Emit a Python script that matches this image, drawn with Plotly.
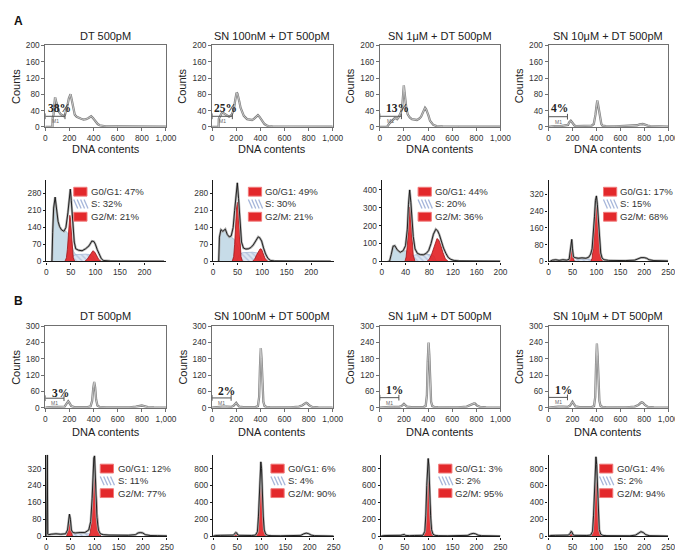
import plotly.graph_objects as go

W, H = 683, 552

TITLES = ["DT 500pM", "SN 100nM + DT 500pM", "SN 1μM + DT 500pM", "SN 10μM + DT 500pM"]
HIST_X_TICKS = [0, 200, 400, 600, 800, 1000]
HIST_X_LABELS = ["0", "200", "400", "600", "800", "1,000"]

# ---------------- Panel A, DNA histograms ----------------
A1_1_x = [0, 55, 59, 61, 68, 75, 81, 90, 100, 113, 127, 140, 154, 163, 173, 185, 195, 209, 218, 228, 244, 260, 276, 297, 317, 338, 358, 380, 395, 407, 420, 434, 450, 466, 500, 600, 800, 1000]
A1_1_y = [0, 0, 0, 22, 30, 55, 73, 62, 47, 37, 31, 28, 26, 30, 39, 55, 70, 80, 68, 51, 30, 25, 22, 20, 18, 19, 22, 26, 22, 17, 12, 7, 4, 3, 1.5, 1, 0.8, 0.5]
A1_2_x = [0, 50, 54, 56, 65, 78, 87, 100, 114, 128, 141, 152, 163, 172, 182, 192, 203, 210, 217, 226, 236, 250, 263, 290, 331, 345, 358, 370, 380, 392, 404, 420, 434, 450, 466, 500, 600, 800, 1000]
A1_2_y = [0, 0, 0, 20, 26, 33, 35, 33, 31, 27, 25, 27, 30, 37, 47, 66, 84, 82, 75, 62, 47, 35, 27, 19, 17, 19, 23, 26, 29, 25, 19, 12, 7, 4, 2, 1.2, 0.8, 0.6, 0.4]
A1_3_x = [0, 60, 76, 90, 103, 115, 125, 135, 144, 153, 163, 175, 185, 192, 199, 205, 212, 220, 231, 248, 266, 287, 307, 325, 342, 352, 361, 368, 375, 383, 391, 404, 416, 430, 443, 470, 520, 650, 1000]
A1_3_y = [0, 0, 7, 11, 15, 19, 22, 21, 19, 22, 27, 36, 47, 75, 102, 85, 63, 45, 31, 23, 19, 17, 17, 20, 25, 32, 39, 44, 47, 44, 39, 27, 15, 9, 5, 2, 1, 0.6, 0.4]
A1_4_x = [0, 50, 100, 150, 163, 172, 180, 186, 195, 205, 215, 227, 260, 320, 360, 378, 385, 392, 399, 403, 407, 412, 418, 425, 432, 441, 451, 480, 560, 680, 740, 760, 775, 787, 800, 815, 828, 850, 900, 1000]
A1_4_y = [0, 2, 2, 3, 5, 11, 14, 15, 12, 7, 4, 2, 2, 2, 3, 7, 15, 30, 47, 60, 65, 58, 47, 30, 15, 7, 3, 2, 1.5, 2, 4, 6, 7, 7, 6, 4, 3, 2, 1, 0.5]
A_GATE_END = [163, 168, 179, 158]
A_GATE_Y = [26, 26, 26, 25]
A_PCT = ["38%", "25%", "13%", "4%"]

# ---------------- Panel B, DNA histograms ----------------
B1_1_x = [0, 30, 60, 100, 140, 160, 172, 182, 190, 200, 215, 240, 300, 350, 375, 388, 397, 405, 413, 421, 432, 450, 500, 600, 700, 750, 780, 800, 820, 850, 900, 1000]
B1_1_y = [0, 2, 3, 3, 3, 4, 12, 22, 24, 18, 6, 2, 1.5, 2, 5, 25, 70, 95, 75, 30, 8, 3, 1.5, 1, 1.5, 4, 7, 8, 6, 2, 1, 0.5]
B1_2_x = [0, 40, 80, 120, 160, 180, 192, 200, 210, 225, 260, 320, 360, 380, 390, 397, 404, 410, 417, 425, 435, 450, 480, 550, 650, 720, 750, 770, 780, 790, 805, 830, 880, 1000]
B1_2_y = [0, 3, 4, 4, 3, 8, 16, 18, 12, 4, 2, 1.5, 2, 6, 40, 150, 220, 180, 85, 22, 6, 3, 2, 1, 1.5, 4, 9, 16, 18, 16, 9, 3, 1, 0.5]
B1_3_x = [0, 40, 80, 120, 160, 180, 192, 200, 210, 225, 260, 320, 360, 380, 390, 397, 404, 410, 417, 425, 435, 450, 480, 550, 650, 720, 750, 770, 780, 790, 805, 830, 880, 1000]
B1_3_y = [0, 2, 3, 3, 3, 6, 12, 14, 10, 4, 2, 1.5, 2, 6, 45, 170, 240, 195, 90, 22, 6, 3, 2, 1, 1.5, 4, 9, 15, 16, 15, 8, 3, 1, 0.5]
B1_4_x = [0, 40, 80, 120, 160, 180, 192, 200, 210, 225, 260, 320, 360, 380, 390, 397, 404, 410, 417, 425, 435, 450, 480, 550, 650, 720, 750, 770, 780, 790, 805, 830, 880, 1000]
B1_4_y = [0, 3, 4, 4, 3, 8, 20, 22, 15, 5, 2, 1.5, 2, 6, 40, 160, 236, 190, 90, 25, 6, 3, 2, 1, 1.5, 4, 10, 18, 20, 18, 10, 3, 1, 0.5]
B_GATE_END = [155, 158, 158, 158]
B_GATE_Y = [35, 36, 37, 38]
B_PCT = ["3%", "2%", "1%", "1%"]

# ---------------- cell-cycle models ----------------
LEG_LABELS = ["G0/G1", "S", "G2/M"]
A2_PCT = [[47, 32, 21], [49, 30, 21], [44, 20, 36], [17, 15, 68]]
B2_PCT = [[12, 11, 77], [6, 4, 90], [3, 2, 95], [4, 2, 94]]

A2_1_tot_x = [10, 11.5, 13, 15, 18, 21, 24, 27, 31, 36, 40, 44, 47, 49, 51, 54, 57, 60, 66, 73, 80, 87, 93, 97, 100, 104, 108, 112, 116, 122, 130, 150, 180, 210, 240]
A2_1_tot_y = [0, 0, 120, 220, 265, 220, 165, 144, 130, 124, 140, 200, 280, 298, 250, 140, 80, 52, 46, 44, 52, 64, 84, 82, 71, 48, 28, 12, 4, 2, 1.5, 1, 1, 0.5, 0.5]
A2_1_deb_x = [10, 11.5, 13, 15, 18, 21, 24, 27, 31, 36, 40, 44, 48, 52, 56, 60, 66, 75, 85, 95, 105, 115]
A2_1_deb_y = [0, 0, 120, 220, 265, 220, 165, 144, 130, 124, 125, 115, 95, 65, 40, 28, 20, 14, 10, 6, 3, 0]
A2_1_g1_x = [38, 41, 43, 45, 47, 48, 49, 51, 53, 55, 58]
A2_1_g1_y = [0, 15, 50, 120, 175, 190, 180, 120, 50, 15, 0]
A2_1_g2_x = [78, 83, 87, 91, 95, 99, 103, 107, 112]
A2_1_g2_y = [0, 8, 20, 35, 44, 38, 22, 8, 0]
A2_1_s_x = [48, 52, 60, 70, 80, 90, 96, 100]
A2_1_s_y = [0, 20, 28, 30, 30, 28, 20, 0]
A2_1_marks = [50]

A2_2_tot_x = [10, 11.5, 13, 16, 20, 25, 29, 33, 37, 41, 44, 47, 49.5, 52, 55, 58, 62, 67, 72, 77, 82, 87, 92, 95, 99, 103, 107, 112, 117, 125, 140, 180, 240]
A2_2_tot_y = [0, 0, 100, 131, 124, 133, 111, 101, 105, 140, 210, 290, 324, 260, 150, 80, 55, 51, 52, 57, 68, 84, 101, 98, 84, 55, 31, 12, 4, 2, 1, 1, 0.5]
A2_2_deb_x = [10, 11.5, 13, 16, 20, 25, 29, 33, 37, 41, 45, 49, 53, 57, 62, 70, 80, 95, 110]
A2_2_deb_y = [0, 0, 100, 131, 124, 133, 111, 101, 100, 95, 85, 70, 50, 35, 25, 15, 8, 3, 0]
A2_2_g1_x = [39, 42, 44, 46, 48, 49.5, 51, 53, 55, 57, 60]
A2_2_g1_y = [0, 20, 70, 160, 225, 244, 230, 160, 70, 20, 0]
A2_2_g2_x = [80, 85, 89, 93, 96, 99, 102, 106, 112]
A2_2_g2_y = [0, 10, 28, 45, 52, 50, 35, 12, 0]
A2_2_s_x = [48, 53, 60, 70, 80, 90, 96, 100]
A2_2_s_y = [0, 25, 36, 38, 38, 35, 25, 0]
A2_2_marks = []

A2_3_tot_x = [10, 13, 16, 19, 22, 26, 31, 36, 40, 43, 45, 47, 49, 51, 53, 56, 60, 65, 70, 75, 79, 83, 87, 91, 94, 97, 100, 104, 108, 112, 116, 122, 130, 145, 170, 200]
A2_3_tot_y = [0, 0, 40, 85, 88, 65, 51, 60, 88, 180, 320, 400, 330, 240, 140, 70, 45, 38, 37, 45, 61, 100, 152, 180, 172, 150, 116, 75, 45, 22, 12, 5, 3, 2, 1, 1]
A2_3_deb_x = [10, 13, 16, 19, 22, 26, 31, 36, 40, 44, 48, 52, 56, 62, 70, 80, 95, 110]
A2_3_deb_y = [0, 0, 40, 85, 88, 65, 51, 55, 60, 55, 42, 30, 20, 14, 10, 6, 3, 0]
A2_3_g1_x = [39, 41, 43, 45, 46, 47, 48, 49, 51, 53, 56]
A2_3_g1_y = [0, 25, 90, 210, 280, 305, 290, 240, 120, 35, 0]
A2_3_g2_x = [76, 80, 84, 88, 91, 93, 96, 99, 103, 107, 112]
A2_3_g2_y = [0, 12, 40, 85, 118, 128, 120, 95, 50, 15, 0]
A2_3_s_x = [45, 50, 58, 66, 74, 82, 88, 92]
A2_3_s_y = [0, 30, 38, 40, 40, 38, 30, 0]
A2_3_marks = [46, 91]

A2_4_tot_x = [3, 8, 15, 22, 30, 38, 43, 45, 47, 48.5, 50, 52, 55, 62, 70, 78, 84, 88, 91, 94, 96, 98, 100, 102, 104, 106, 109, 112, 116, 125, 140, 160, 180, 187, 193, 200, 205, 210, 220, 235, 250]
A2_4_tot_y = [0, 6, 8, 5, 8, 6, 10, 50, 100, 105, 60, 22, 18, 15, 17, 15, 20, 35, 60, 140, 215, 290, 312, 270, 190, 110, 40, 15, 8, 5, 4, 4, 6, 12, 18, 18, 15, 8, 4, 3, 2]
A2_4_deb_x = [3, 8, 15, 22, 30, 38, 45, 50, 55]
A2_4_deb_y = [0, 6, 8, 5, 8, 6, 4, 2, 0]
A2_4_g1_x = [42, 44, 46, 47, 48, 49, 50, 52, 54]
A2_4_g1_y = [0, 20, 70, 92, 98, 92, 65, 15, 0]
A2_4_g2_x = [88, 91, 93, 95, 97, 98.5, 100, 101.5, 103, 105, 107, 110, 113]
A2_4_g2_y = [0, 15, 60, 140, 220, 280, 305, 280, 220, 140, 70, 15, 0]
A2_4_s_x = [52, 60, 70, 80, 88, 92]
A2_4_s_y = [0, 10, 12, 12, 10, 0]
A2_4_marks = [48, 99, 198]

B2_1_tot_x = [0, 1, 2, 3, 5, 10, 20, 30, 40, 44, 46, 48, 50, 52, 55, 60, 70, 80, 88, 92, 95, 97, 98.5, 100, 101.5, 103, 105, 108, 112, 118, 130, 150, 170, 185, 190, 195, 200, 205, 215, 230, 250]
B2_1_tot_y = [0, 380, 385, 10, 8, 10, 12, 10, 12, 30, 80, 105, 80, 30, 18, 16, 18, 18, 30, 70, 180, 300, 370, 380, 320, 200, 90, 30, 12, 8, 6, 5, 5, 8, 16, 18, 16, 8, 4, 3, 2]
B2_1_g1_x = [42, 44, 46, 47, 48, 49, 50, 52, 54]
B2_1_g1_y = [0, 20, 70, 95, 100, 95, 70, 20, 0]
B2_1_g2_x = [88, 91, 93, 95, 97, 98.5, 100, 101.5, 103, 105, 107, 110, 113]
B2_1_g2_y = [0, 15, 60, 150, 240, 300, 320, 300, 240, 150, 70, 15, 0]
B2_1_s_x = [52, 60, 70, 80, 90, 95]
B2_1_s_y = [0, 12, 15, 15, 12, 0]
B2_1_marks = [49, 99, 194]

B2_2_tot_x = [0, 5, 15, 25, 35, 42, 45, 47, 49, 51, 54, 60, 70, 80, 88, 92, 94, 96, 97.5, 99, 100.5, 102, 104, 106, 109, 113, 120, 140, 170, 182, 188, 193, 198, 203, 210, 225, 250]
B2_2_tot_y = [0, 10, 12, 10, 12, 15, 30, 45, 40, 18, 12, 10, 12, 10, 15, 55, 230, 560, 840, 880, 800, 520, 240, 75, 25, 12, 8, 6, 6, 12, 30, 38, 32, 15, 8, 5, 3]
B2_2_g1_x = [43, 45, 47, 48, 49, 51, 53]
B2_2_g1_y = [0, 18, 38, 42, 38, 12, 0]
B2_2_g2_x = [88, 91, 93, 95, 96.5, 98, 99.5, 101, 103, 105, 107, 110]
B2_2_g2_y = [0, 30, 140, 380, 610, 760, 790, 660, 380, 140, 40, 0]
B2_2_s_x = [52, 65, 80, 92]
B2_2_s_y = [0, 8, 8, 0]
B2_2_marks = [50, 100, 195]

B2_3_tot_x = [0, 5, 15, 25, 35, 42, 45, 47, 49, 51, 54, 60, 70, 80, 88, 92, 94, 96, 97.5, 99, 100.5, 102, 104, 106, 109, 113, 120, 140, 170, 182, 188, 193, 198, 203, 210, 225, 250]
B2_3_tot_y = [0, 8, 10, 8, 10, 12, 18, 25, 22, 12, 10, 8, 10, 8, 12, 60, 250, 600, 880, 920, 830, 540, 250, 80, 25, 12, 8, 6, 6, 12, 28, 35, 30, 14, 8, 5, 3]
B2_3_g1_x = [43, 45, 47, 48, 49, 51, 53]
B2_3_g1_y = [0, 10, 20, 24, 20, 8, 0]
B2_3_g2_x = [88, 91, 93, 95, 96.5, 98, 99.5, 101, 103, 105, 107, 110]
B2_3_g2_y = [0, 30, 150, 400, 640, 800, 830, 690, 400, 150, 40, 0]
B2_3_s_x = [52, 65, 80, 92]
B2_3_s_y = [0, 5, 5, 0]
B2_3_marks = [50, 100, 195]

B2_4_tot_x = [0, 5, 15, 25, 35, 42, 45, 47, 49, 51, 54, 60, 70, 80, 88, 92, 94, 96, 97.5, 99, 100.5, 102, 104, 106, 109, 113, 120, 140, 170, 182, 188, 193, 198, 203, 210, 225, 250]
B2_4_tot_y = [0, 10, 12, 10, 12, 15, 35, 58, 50, 20, 12, 10, 12, 10, 15, 60, 250, 600, 900, 940, 850, 560, 260, 80, 25, 12, 8, 6, 6, 15, 40, 55, 45, 20, 8, 5, 3]
B2_4_g1_x = [43, 45, 47, 48, 49, 51, 53]
B2_4_g1_y = [0, 20, 45, 50, 45, 15, 0]
B2_4_g2_x = [88, 91, 93, 95, 96.5, 98, 99.5, 101, 103, 105, 107, 110]
B2_4_g2_y = [0, 30, 150, 400, 650, 800, 830, 700, 400, 150, 40, 0]
B2_4_s_x = [52, 65, 80, 92]
B2_4_s_y = [0, 6, 6, 0]
B2_4_marks = [50, 100, 195]

HIST_A = [(A1_1_x, A1_1_y), (A1_2_x, A1_2_y), (A1_3_x, A1_3_y), (A1_4_x, A1_4_y)]
HIST_B = [(B1_1_x, B1_1_y), (B1_2_x, B1_2_y), (B1_3_x, B1_3_y), (B1_4_x, B1_4_y)]
CC_A = [
    dict(tot=(A2_1_tot_x, A2_1_tot_y), deb=(A2_1_deb_x, A2_1_deb_y), g1=(A2_1_g1_x, A2_1_g1_y), g2=(A2_1_g2_x, A2_1_g2_y), s=(A2_1_s_x, A2_1_s_y), marks=A2_1_marks),
    dict(tot=(A2_2_tot_x, A2_2_tot_y), deb=(A2_2_deb_x, A2_2_deb_y), g1=(A2_2_g1_x, A2_2_g1_y), g2=(A2_2_g2_x, A2_2_g2_y), s=(A2_2_s_x, A2_2_s_y), marks=A2_2_marks),
    dict(tot=(A2_3_tot_x, A2_3_tot_y), deb=(A2_3_deb_x, A2_3_deb_y), g1=(A2_3_g1_x, A2_3_g1_y), g2=(A2_3_g2_x, A2_3_g2_y), s=(A2_3_s_x, A2_3_s_y), marks=A2_3_marks),
    dict(tot=(A2_4_tot_x, A2_4_tot_y), deb=(A2_4_deb_x, A2_4_deb_y), g1=(A2_4_g1_x, A2_4_g1_y), g2=(A2_4_g2_x, A2_4_g2_y), s=(A2_4_s_x, A2_4_s_y), marks=A2_4_marks),
]
CC_B = [
    dict(tot=(B2_1_tot_x, B2_1_tot_y), deb=None, g1=(B2_1_g1_x, B2_1_g1_y), g2=(B2_1_g2_x, B2_1_g2_y), s=(B2_1_s_x, B2_1_s_y), marks=B2_1_marks),
    dict(tot=(B2_2_tot_x, B2_2_tot_y), deb=None, g1=(B2_2_g1_x, B2_2_g1_y), g2=(B2_2_g2_x, B2_2_g2_y), s=(B2_2_s_x, B2_2_s_y), marks=B2_2_marks),
    dict(tot=(B2_3_tot_x, B2_3_tot_y), deb=None, g1=(B2_3_g1_x, B2_3_g1_y), g2=(B2_3_g2_x, B2_3_g2_y), s=(B2_3_s_x, B2_3_s_y), marks=B2_3_marks),
    dict(tot=(B2_4_tot_x, B2_4_tot_y), deb=None, g1=(B2_4_g1_x, B2_4_g1_y), g2=(B2_4_g2_x, B2_4_g2_y), s=(B2_4_s_x, B2_4_s_y), marks=B2_4_marks),
]

# ---------------- layout geometry (pixels) ----------------
HIST_XDOM = [(36, 159), (206, 329), (377, 500), (549, 671)]
A1_YDOM, B1_YDOM = (33, 116), (319, 402)
A2_YDOM, B2_YDOM = (170, 253), (450, 533)
A2_XDOM = [(37, 159), (207, 330), (379, 500), (549, 671)]
B2_XDOM = [(37, 160), (207, 330), (378, 500), (549, 671)]
A2_XRANGE = [244, 246, 200, 250]
A2_YRANGE = [336, 336, 456, 388]
A2_YTICKS = [[0, 70, 140, 210, 280], [0, 70, 140, 210, 280], [0, 100, 200, 300, 400], [0, 80, 160, 240, 320]]
A2_XTICKS = [[0, 50, 100, 150, 200], [0, 50, 100, 150, 200], [0, 40, 80, 120, 160, 200], [0, 50, 100, 150, 200, 250]]
B2_YRANGE = [385, 963, 963, 963]
B2_YTICKS = [[0, 80, 160, 240, 320], [0, 200, 400, 600, 800], [0, 200, 400, 600, 800], [0, 200, 400, 600, 800]]
B2_XTICKS = [[0, 50, 100, 150, 200, 250]] * 4
A2_LEG = [(65, 82), (243, 259), (416, 432), (605, 621)]
B2_LEG = [(92, 109), (266, 282), (437, 453), (601, 618)]
A2_LEG_ROWS = (182, 194.5, 207.5)
B2_LEG_ROWS = (464, 476.5, 489)
PCT_POS_A = [(114, 46), (114, 47), (144, 47), (90, 47)]
PCT_POS_B = [(127, 54), (123, 62), (123, 64), (123, 66)]

FONT = "Liberation Sans, Arial, sans-serif"
RED = "rgba(226,32,36,0.9)"

def fx(p):
    return p / W

def fy(p):
    return 1 - p / H

fig = go.Figure()
layout = {}
annotations = []
shapes = []


def nm(i):
    return "" if i == 1 else str(i)


def set_axes(i, xdom, ydom, xr, yr, xtv, xtt, ytv, kind):
    n = nm(i)
    if kind == "hist":
        base = dict(showline=True, linecolor="#707070", linewidth=1, mirror=True, ticks="outside",
                    ticklen=3, tickcolor="#707070", tickwidth=1)
    else:
        base = dict(showline=True, linecolor="#1a1a1a", linewidth=1.4, mirror=False, ticks="outside",
                    ticklen=2, tickcolor="#1a1a1a", tickwidth=1)
    common = dict(showgrid=False, zeroline=False, fixedrange=True,
                  tickfont=dict(size=8.3, color="#333", family=FONT))
    layout["xaxis" + n] = dict(domain=[fx(xdom[0]), fx(xdom[1])], range=xr, anchor="y" + n,
                               tickvals=xtv, ticktext=xtt, **base, **common)
    layout["yaxis" + n] = dict(domain=[fy(ydom[1]), fy(ydom[0])], range=yr, anchor="x" + n,
                               tickvals=ytv, **base, **common)


def refs(i):
    n = nm(i)
    return dict(xaxis="x" + n, yaxis="y" + n)


def add_hist(i, xs, ys, xdom, ydom, yr, ytv, gate_end, gate_y, pct, pct_pos, title, title_y, dna_y):
    set_axes(i, xdom, ydom, [0, 1000], [0, yr], HIST_X_TICKS, HIST_X_LABELS, ytv, "hist")
    r = refs(i)
    fig.add_trace(go.Scatter(x=xs, y=ys, mode="lines", line=dict(color="#808080", width=2.3), hoverinfo="skip", **r))
    fig.add_trace(go.Scatter(x=xs, y=ys, mode="lines", line=dict(color="#d6d6d6", width=0.8), hoverinfo="skip", **r))
    n = nm(i)
    tick = yr * 0.035
    for (x0, y0, x1, y1) in [(0, gate_y, gate_end, gate_y), (0, gate_y - tick, 0, gate_y + tick),
                             (gate_end, gate_y - tick, gate_end, gate_y + tick)]:
        shapes.append(dict(type="line", xref="x" + n, yref="y" + n, x0=x0, y0=y0, x1=x1, y1=y1,
                           line=dict(color="#555", width=1)))
    annotations.append(dict(xref="x" + n, yref="y" + n, x=gate_end / 2, y=gate_y, yshift=-5, text="M1",
                            showarrow=False, font=dict(size=5, color="#666", family=FONT)))
    annotations.append(dict(xref="x" + n, yref="y" + n, x=pct_pos[0], y=pct_pos[1], text="<b>%s</b>" % pct,
                            showarrow=False, font=dict(size=11.5, color="#222", family="Liberation Serif, DejaVu Serif, serif")))
    xc = (xdom[0] + xdom[1]) / 2
    annotations.append(dict(xref="paper", yref="paper", x=fx(xc), y=fy(title_y), text=title, showarrow=False,
                            font=dict(size=11, color="#222", family=FONT), xanchor="center", yanchor="middle"))
    annotations.append(dict(xref="paper", yref="paper", x=fx(xc), y=fy(dna_y), text="DNA contents", showarrow=False,
                            font=dict(size=11, color="#222", family=FONT), xanchor="center", yanchor="middle"))
    annotations.append(dict(xref="paper", yref="paper", x=fx(xdom[0] - 30), y=fy((ydom[0] + ydom[1]) / 2),
                            text="Counts", textangle=-90, showarrow=False,
                            font=dict(size=11, color="#222", family=FONT), xanchor="center", yanchor="middle"))


def add_cc(i, d, xdom, ydom, xr, yr, xtv, ytv, leg, rows, pcts):
    set_axes(i, xdom, ydom, [0, xr], [0, yr], xtv, [str(v) for v in xtv], ytv, "cc")
    r = refs(i)
    if d["deb"] is not None:
        fig.add_trace(go.Scatter(x=d["deb"][0], y=d["deb"][1], mode="lines", fill="tozeroy",
                                 fillcolor="#c7dce8", line=dict(color="#8fb0c4", width=0.6), hoverinfo="skip", **r))
    fig.add_trace(go.Scatter(x=d["s"][0], y=d["s"][1], mode="lines", fill="tozeroy",
                             fillpattern=dict(shape="\\", bgcolor="#dde6f2", fgcolor="#8ea4cc", size=4, solidity=0.35),
                             line=dict(color="#8ea4cc", width=0.6), hoverinfo="skip", **r))
    for key in ("g1", "g2"):
        fig.add_trace(go.Scatter(x=d[key][0], y=d[key][1], mode="lines", fill="tozeroy", fillcolor=RED,
                                 line=dict(color="#9c1418", width=0.8), hoverinfo="skip", **r))
    fig.add_trace(go.Scatter(x=d["tot"][0], y=d["tot"][1], mode="lines", line=dict(color="#b0b0b0", width=2.4),
                             hoverinfo="skip", **r))
    fig.add_trace(go.Scatter(x=d["tot"][0], y=d["tot"][1], mode="lines", line=dict(color="#111", width=0.9),
                             hoverinfo="skip", **r))
    if d["marks"]:
        fig.add_trace(go.Scatter(x=d["marks"], y=[-yr * 0.025] * len(d["marks"]), mode="markers",
                                 marker=dict(symbol="triangle-up", size=6, color="#111"), cliponaxis=False,
                                 hoverinfo="skip", **r))
    sx, tx = leg
    for k, yc in enumerate(rows):
        x0, x1, y0, y1 = sx, sx + 13.5, yc - 4.5, yc + 4.5
        if k == 1:
            for j in range(4):
                xa = x0 + j * 3.5
                shapes.append(dict(type="line", xref="paper", yref="paper", x0=fx(xa), y0=fy(y0),
                                   x1=fx(xa + 4), y1=fy(y1), line=dict(color="#a6b6da", width=1.3)))
        else:
            shapes.append(dict(type="rect", xref="paper", yref="paper", x0=fx(x0), x1=fx(x1), y0=fy(y1), y1=fy(y0),
                               fillcolor="#e3282b", line=dict(color="#f07a7a", width=1)))
        annotations.append(dict(xref="paper", yref="paper", x=fx(tx), y=fy(yc), xanchor="left", yanchor="middle",
                                text="%s: %d%%" % (LEG_LABELS[k], pcts[k]), showarrow=False, borderpad=0,
                                font=dict(size=9.6, color="#333", family=FONT)))


for c in range(4):
    add_hist(c + 1, HIST_A[c][0], HIST_A[c][1], HIST_XDOM[c], A1_YDOM, 200, [0, 40, 80, 120, 160, 200],
             A_GATE_END[c], A_GATE_Y[c], A_PCT[c], PCT_POS_A[c], TITLES[c], 23, 139)
for c in range(4):
    add_cc(c + 5, CC_A[c], A2_XDOM[c], A2_YDOM, A2_XRANGE[c], A2_YRANGE[c], A2_XTICKS[c], A2_YTICKS[c],
           A2_LEG[c], A2_LEG_ROWS, A2_PCT[c])
for c in range(4):
    add_hist(c + 9, HIST_B[c][0], HIST_B[c][1], HIST_XDOM[c], B1_YDOM, 300, [0, 60, 120, 180, 240, 300],
             B_GATE_END[c], B_GATE_Y[c], B_PCT[c], PCT_POS_B[c], TITLES[c], 309, 427)
for c in range(4):
    add_cc(c + 13, CC_B[c], B2_XDOM[c], B2_YDOM, 250, B2_YRANGE[c], B2_XTICKS[c], B2_YTICKS[c],
           B2_LEG[c], B2_LEG_ROWS, B2_PCT[c])

for letter, ypx in (("A", 8), ("B", 293)):
    annotations.append(dict(xref="paper", yref="paper", x=fx(2), y=fy(ypx), xanchor="left", yanchor="middle",
                            text="<b>%s</b>" % letter, showarrow=False, font=dict(size=12, color="#111", family=FONT)))

fig.update_layout(width=W, height=H, autosize=False, margin=dict(l=0, r=0, t=0, b=0),
                  paper_bgcolor="white", plot_bgcolor="white", showlegend=False,
                  annotations=annotations, shapes=shapes, **layout)
fig.write_html("out.html")
